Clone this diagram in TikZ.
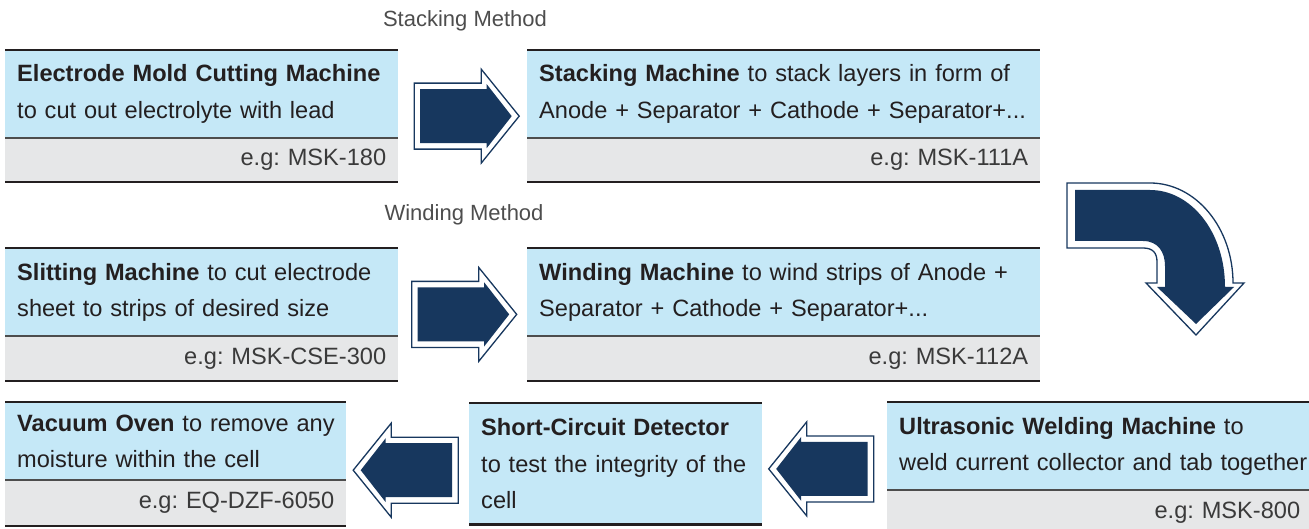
\documentclass[tikz,border=0pt]{standalone}
\usepackage{fontspec}
\setmainfont{Liberation Sans}
\usepackage{xcolor}
\usepackage{tikz}
\usetikzlibrary{calc}
\frenchspacing

\definecolor{boxblue}{HTML}{C5E8F7}
\definecolor{boxgray}{HTML}{E6E7E8}
\definecolor{navy}{HTML}{17375E}
\definecolor{inkdark}{HTML}{231F20}
\definecolor{inkmid}{HTML}{3A3A3A}
\definecolor{inklight}{HTML}{4D4D4D}
\definecolor{rulegray}{HTML}{4D4D4D}

\tikzstyle{descbox}  =[fill=boxblue, anchor=north west, align=left, inner xsep=12pt, inner ysep=0pt]
\tikzstyle{modelbox} =[fill=boxgray, anchor=north west, align=right, inner xsep=12pt, inner ysep=0pt,
                       minimum height=44pt, text=inkmid]
\tikzstyle{edgetop}  =[line width=2.6pt, draw=inkdark]
\tikzstyle{edgemid}  =[line width=2pt, draw=rulegray]
\tikzstyle{edgebot}  =[line width=2.4pt, draw=inkdark]
\tikzstyle{methodlbl}=[font=\fontsize{22}{26}\selectfont, text=inklight]
\tikzstyle{arrowrim} =[draw=navy, fill=white, line width=1.3pt, line join=miter]
\tikzstyle{arrowcore}=[fill=navy]

% block arrow round a centre point, #2 = direction in degrees
\newcommand{\blockarrow}[2]{%
  \begin{scope}[shift={(#1)}, rotate=#2]
    \filldraw[arrowrim] (-52.5,-33) -- (14.5,-33) -- (14.5,-47) -- (52.5,0) -- (14.5,47) -- (14.5,33) -- (-52.5,33) -- cycle;
    \fill[arrowcore] (-46.5,-27) -- (20,-27) -- (20,-32) -- (45,0) -- (20,32) -- (20,27) -- (-46.5,27) -- cycle;
  \end{scope}}

\begin{document}
\begin{tikzpicture}[x=1pt, y=-1pt, every node/.style={font=\fontsize{23.6}{36.5}\selectfont, text=inkdark}]
  \useasboundingbox (0,0) rectangle (1309,529);

  % ── method labels ─────────────────────────────────────────────────────────
  \node[methodlbl] (stacklbl) at (465,21)  {Stacking Method};
  \node[methodlbl] (windlbl)  at (464,215) {Winding Method};

  % ── boxes ─────────────────────────────────────────────────────────────────
  \node[descbox, text width=369pt, minimum height=87.5pt] (mold) at (5,50)
        {\textbf{Electrode Mold Cutting Machine}\\to cut out electrolyte with lead};
  \node[modelbox, text width=369pt] (moldm) at (mold.south west) {e.g: MSK-180};

  \node[descbox, text width=489pt, minimum height=87.5pt] (stack) at (527,50)
        {\mbox{\textbf{Stacking Machine} to stack layers in form of}\\\mbox{Anode + Separator + Cathode + Separator+...}};
  \node[modelbox, text width=489pt] (stackm) at (stack.south west) {e.g: MSK-111A};

  \node[descbox, text width=369pt, minimum height=88pt] (slit) at (5,248)
        {\mbox{\textbf{Slitting Machine} to cut electrode}\\sheet to strips of desired size};
  \node[modelbox, text width=369pt] (slitm) at (slit.south west) {e.g: MSK-CSE-300};

  \node[descbox, text width=489pt, minimum height=88pt] (wind) at (527,248)
        {\mbox{\textbf{Winding Machine} to wind strips of Anode +}\\Separator + Cathode + Separator+...};
  \node[modelbox, text width=489pt] (windm) at (wind.south west) {e.g: MSK-112A};

  \node[descbox, text width=317pt, minimum height=78pt] (vac) at (5,402)
        {\mbox{\textbf{Vacuum Oven} to remove any}\\moisture within the cell};
  \node[modelbox, text width=317pt, minimum height=45pt] (vacm) at (vac.south west) {e.g: EQ-DZF-6050};

  \node[descbox, text width=269pt, minimum height=121pt] (short) at (469,403)
        {\mbox{\textbf{Short-Circuit Detector}}\\\mbox{to test the integrity of the}\\cell};

  \node[descbox, text width=401pt, minimum height=88pt] (ultra) at (887,402)
        {\mbox{\textbf{Ultrasonic Welding Machine} to}\\\mbox{weld current collector and tab together}};
  \node[modelbox, text width=401pt] (ultram) at (ultra.south west) {e.g: MSK-800};

  % ── rules ─────────────────────────────────────────────────────────────────
  \draw[edgetop] (mold.north west)   -- (mold.north east);
  \draw[edgemid] (mold.south west)   -- (mold.south east);
  \draw[edgebot] (moldm.south west)  -- (moldm.south east);
  \draw[edgetop] (stack.north west)  -- (stack.north east);
  \draw[edgemid] (stack.south west)  -- (stack.south east);
  \draw[edgebot] (stackm.south west) -- (stackm.south east);
  \draw[edgetop] (slit.north west)   -- (slit.north east);
  \draw[edgemid] (slit.south west)   -- (slit.south east);
  \draw[edgebot] (slitm.south west)  -- (slitm.south east);
  \draw[edgetop] (wind.north west)   -- (wind.north east);
  \draw[edgemid] (wind.south west)   -- (wind.south east);
  \draw[edgebot] (windm.south west)  -- (windm.south east);
  \draw[edgetop] (vac.north west)    -- (vac.north east);
  \draw[edgemid] (vac.south west)    -- (vac.south east);
  \draw[edgebot] (vacm.south west)   -- (vacm.south east);
  \draw[edgetop] (short.north west)  -- (short.north east);
  \draw[edgebot] (short.south west)  -- (short.south east);
  \draw[edgetop] (ultra.north west)  -- (ultra.north east);
  \draw[edgemid] (ultra.south west)  -- (ultra.south east);

  % ── arrows ────────────────────────────────────────────────────────────────
  \coordinate (a1) at ($(mold.north east)!.5!(stackm.south west)+(4,0)$);
  \coordinate (a2) at ($(slit.north east)!.5!(windm.south west)+(1.5,0)$);
  \coordinate (a3) at ($(vac.north east)!.5!(short.south west)+(-2,7)$);
  \coordinate (a4) at ($(short.north east)!.5!(ultram.south west)+(-3.5,0)$);
  \blockarrow{a1}{0}
  \blockarrow{a2}{0}
  \blockarrow{a3}{180}
  \blockarrow{a4}{180}

  % bent arrow from the stacking row down to the welding machine
  \filldraw[arrowrim] (1067,183) -- (1150,183) .. controls (1196,183) and (1233,228) .. (1233,283)
      -- (1244,283) -- (1196,335) -- (1146,283) -- (1157,283) -- (1157,262)
      .. controls (1157,253) and (1153,248) .. (1143,248) -- (1067,248) -- cycle;
  \fill[arrowcore] (1075,190) -- (1150,190) .. controls (1191,190) and (1225,232) .. (1225,287)
      -- (1234,287) -- (1196,324) -- (1157,287) -- (1165,287) -- (1165,266)
      .. controls (1165,252) and (1158,241) .. (1143,241) -- (1075,241) -- cycle;

\end{tikzpicture}
\end{document}
